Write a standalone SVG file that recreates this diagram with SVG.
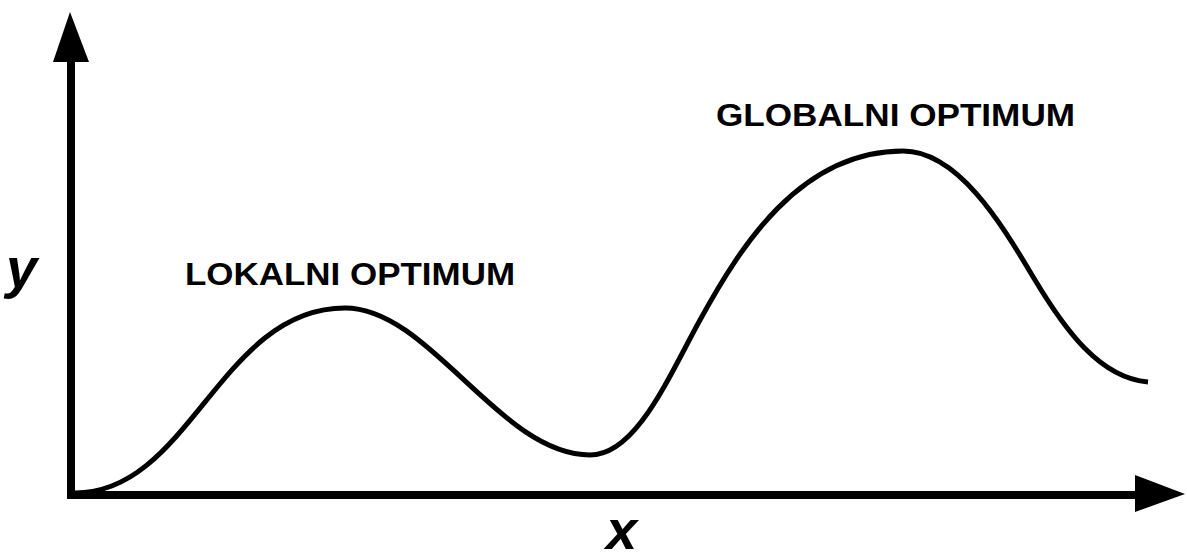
<svg xmlns="http://www.w3.org/2000/svg" width="1187" height="554" viewBox="0 0 1187 554">
<style>
.axis{stroke:#000;stroke-width:8;fill:none}
.head{fill:#000}
.curve{stroke:#000;stroke-width:5;fill:none}
.lbl{font-family:"Liberation Sans",Arial,sans-serif;font-weight:bold;font-size:32px;fill:#000}
.var{font-family:"Liberation Sans",Arial,sans-serif;font-weight:bold;font-style:italic;font-size:56px;fill:#000}
</style>
<rect width="1187" height="554" fill="#fff"/>
<g id="connectors">
<line class="axis" x1="71" y1="58" x2="71" y2="499"/>
<polygon class="head" points="70,12 53,62 89,62"/>
<line class="axis" x1="67" y1="495" x2="1138" y2="495"/>
<polygon class="head" points="1185,494 1135,475 1135,512"/>
</g>
<g id="curve">
<path class="curve" d="M75,493 C190,493 220,308 345,308 C430,308 500,455 590,455 C636,455 668,378 700,320 C740,247 800,151 903,151 C960,151 1005,230 1035,280 C1065,330 1100,378 1148,382"/>
</g>
<g id="label-local"><text class="lbl" x="185" y="285" textLength="330" lengthAdjust="spacingAndGlyphs">LOKALNI OPTIMUM</text></g>
<g id="label-global"><text class="lbl" x="716" y="126" textLength="359" lengthAdjust="spacingAndGlyphs">GLOBALNI OPTIMUM</text></g>
<g id="label-y"><text class="var" x="6" y="287">y</text></g>
<g id="label-x"><text class="var" x="606" y="549">x</text></g>
</svg>
